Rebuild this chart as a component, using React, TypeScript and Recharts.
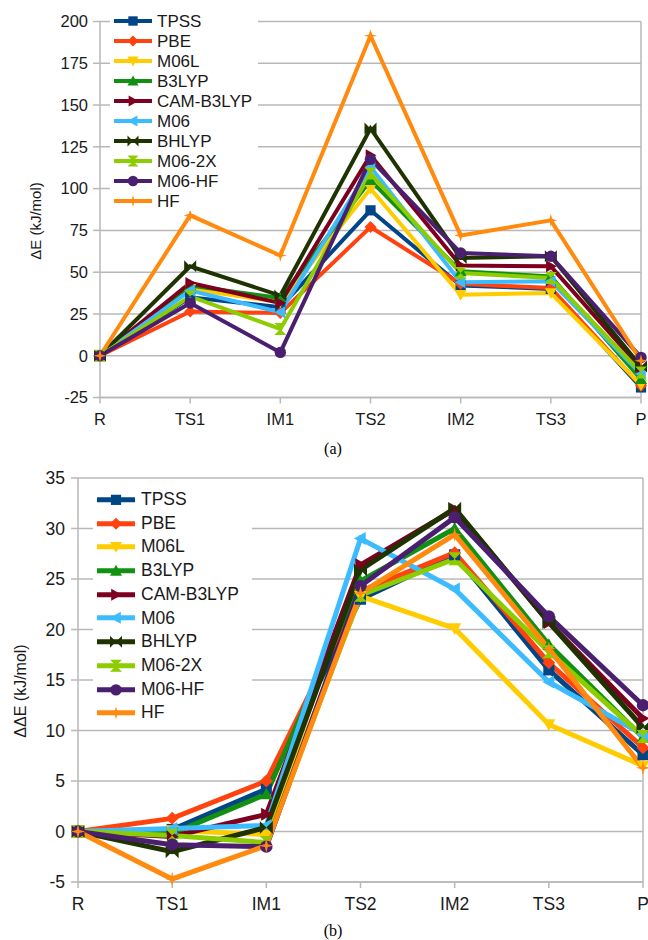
import React from 'react';
import { LineChart, Line, XAxis, YAxis, CartesianGrid, Legend, ReferenceLine, Label } from 'recharts';

const categories = ['R', 'TS1', 'IM1', 'TS2', 'IM2', 'TS3', 'P'];
const seriesNames = ['TPSS', 'PBE', 'M06L', 'B3LYP', 'CAM-B3LYP', 'M06', 'BHLYP', 'M06-2X', 'M06-HF', 'HF'];
const seriesColors = ['#004586', '#ff420e', '#ffcc00', '#129012', '#7e0021', '#3cbcff', '#1e3300', '#8ccc00', '#4b1f6f', '#ff8a0e'];
const seriesShapes = ['square', 'diamond', 'down', 'up', 'right', 'left', 'bowtie', 'hourglass', 'circle', 'star'];

// (a) ΔE (kJ/mol)
const dE_TPSS = [0, 35, 29, 87, 42, 40, -19];
const dE_PBE = [0, 26.5, 25.5, 77, 43, 40.5, -18];
const dE_M06L = [0, 40, 32, 100, 36.5, 37.5, -17.5];
const dE_B3LYP = [0, 42, 34.5, 105, 50.5, 47.5, -14];
const dE_CAMB3LYP = [0, 43.5, 31.5, 120, 54, 53.5, -7.5];
const dE_M06 = [0, 39, 26, 113, 44, 44.5, -11];
const dE_BHLYP = [0, 53.5, 36, 136, 58.5, 59.5, -6.5];
const dE_M062X = [0, 35.5, 16, 109, 49.5, 46.5, -10];
const dE_M06HF = [0, 31.5, 2, 117.5, 61.5, 59.5, -1];
const dE_HF = [0, 84, 60, 191.5, 72, 81, -3];
const dETicks = [-25, 0, 25, 50, 75, 100, 125, 150, 175, 200];

// (b) ΔΔE (kJ/mol)
const ddE_TPSS = [0, 0.2, 4.2, 23.0, 27.4, 16.0, 7.6];
const ddE_PBE = [0, 1.3, 5.0, 23.8, 27.6, 16.7, 8.3];
const ddE_M06L = [0, 0.1, -0.3, 23.3, 20.1, 10.6, 6.5];
const ddE_B3LYP = [0, -0.2, 3.7, 24.8, 30.0, 18.5, 9.3];
const ddE_CAMB3LYP = [0, -0.5, 1.7, 26.4, 31.9, 20.7, 11.2];
const ddE_M06 = [0, 0.3, 0.6, 29.0, 24.0, 14.8, 9.6];
const ddE_BHLYP = [0, -2.0, 0.4, 25.9, 32.0, 20.7, 10.3];
const ddE_M062X = [0, -0.4, -1.1, 23.4, 27.0, 17.8, 9.4];
const ddE_M06HF = [0, -1.3, -1.5, 24.3, 31.1, 21.3, 12.5];
const ddE_HF = [0, -4.7, -1.4, 23.6, 29.4, 18.1, 6.3];
const ddETicks = [-5, 0, 5, 10, 15, 20, 25, 30, 35];

const dESeries = [dE_TPSS, dE_PBE, dE_M06L, dE_B3LYP, dE_CAMB3LYP, dE_M06, dE_BHLYP, dE_M062X, dE_M06HF, dE_HF];
const ddESeries = [ddE_TPSS, ddE_PBE, ddE_M06L, ddE_B3LYP, ddE_CAMB3LYP, ddE_M06, ddE_BHLYP, ddE_M062X, ddE_M06HF, ddE_HF];

function buildRows(series: number[][]) {
  return categories.map((c, i) => {
    const row: any = { cat: c };
    seriesNames.forEach((n, k) => {
      row[n] = series[k][i];
    });
    return row;
  });
}

const dataA = buildRows(dESeries);
const dataB = buildRows(ddESeries);

const FONT = '"Liberation Sans", Arial, sans-serif';
const GRID = '#b8b8b8';
const TEXT = '#1a1a1a';

function Marker({ shape, cx, cy, r, color }: { shape: string; cx: number; cy: number; r: number; color: string }) {
  const pts = (arr: number[][]) => arr.map(([x, y]) => `${cx + x * r},${cy + y * r}`).join(' ');
  switch (shape) {
    case 'square':
      return <rect x={cx - r * 0.85} y={cy - r * 0.85} width={r * 1.7} height={r * 1.7} fill={color} />;
    case 'diamond':
      return <polygon points={pts([[0, -1], [1, 0], [0, 1], [-1, 0]])} fill={color} />;
    case 'down':
      return <polygon points={pts([[-1, -0.8], [1, -0.8], [0, 1]])} fill={color} />;
    case 'up':
      return <polygon points={pts([[-1, 0.8], [1, 0.8], [0, -1]])} fill={color} />;
    case 'right':
      return <polygon points={pts([[-0.8, -1], [1, 0], [-0.8, 1]])} fill={color} />;
    case 'left':
      return <polygon points={pts([[0.8, -1], [-1, 0], [0.8, 1]])} fill={color} />;
    case 'bowtie':
      return <polygon points={pts([[-1, -1], [1, 1], [1, -1], [-1, 1]])} fill={color} />;
    case 'hourglass':
      return <polygon points={pts([[-1, -1], [1, -1], [-1, 1], [1, 1]])} fill={color} />;
    case 'circle':
      return <circle cx={cx} cy={cy} r={r * 0.95} fill={color} />;
    case 'star':
      return (
        <polygon
          points={pts([[0, -1.1], [0.22, -0.22], [1.1, 0], [0.22, 0.22], [0, 1.1], [-0.22, 0.22], [-1.1, 0], [-0.22, -0.22]])}
          fill={color}
        />
      );
    default:
      return null;
  }
}

function makeLegend(rowH: number, fontSize: number, lineW: number, stroke: number, r: number, textGap: number) {
  return () => (
    <div style={{ background: '#fff', padding: '0 4px' }}>
      {seriesNames.map((n, k) => (
        <div key={n} style={{ height: rowH, display: 'flex', alignItems: 'center' }}>
          <svg width={lineW} height={rowH} style={{ display: 'block', overflow: 'visible' }}>
            <line x1={0} x2={lineW} y1={rowH / 2} y2={rowH / 2} stroke={seriesColors[k]} strokeWidth={stroke} />
            <Marker shape={seriesShapes[k]} cx={lineW / 2} cy={rowH / 2} r={r} color={seriesColors[k]} />
          </svg>
          <span style={{ marginLeft: textGap, fontFamily: FONT, fontSize, color: TEXT, whiteSpace: 'nowrap', lineHeight: 1 }}>{n}</span>
        </div>
      ))}
    </div>
  );
}

function renderLines(strokeW: number, r: number) {
  return seriesNames.map((n, k) => (
    <Line
      key={n}
      type="linear"
      dataKey={n}
      stroke={seriesColors[k]}
      strokeWidth={strokeW}
      isAnimationActive={false}
      activeDot={false}
      dot={(p: any) =>
        p.cx == null || p.cy == null ? (
          <g key={`${n}-${p.index}`} />
        ) : (
          <Marker key={`${n}-${p.index}`} shape={seriesShapes[k]} cx={p.cx} cy={p.cy} r={r} color={seriesColors[k]} />
        )
      }
    />
  ));
}

function ChartA() {
  return (
    <LineChart width={648} height={440} data={dataA} margin={{ top: 21.5, right: 7, left: 0, bottom: 12.5 }}>
      <CartesianGrid vertical={false} stroke={GRID} strokeWidth={1.5} />
      <XAxis
        dataKey="cat"
        height={30}
        stroke={GRID}
        strokeWidth={1.5}
        tickSize={6}
        tickMargin={10}
        interval={0}
        tick={{ fill: TEXT, fontSize: 16.5, fontFamily: FONT }}
      />
      <YAxis
        width={100}
        domain={[-25, 200]}
        ticks={dETicks}
        interval={0}
        stroke={GRID}
        strokeWidth={1.5}
        tickSize={7}
        tickMargin={5}
        tick={{ fill: TEXT, fontSize: 16.5, fontFamily: FONT }}
      >
        <Label
          content={() => (
            <text x={35} y={221} transform="rotate(-90 35 221)" textAnchor="middle" dominantBaseline="central" fill={TEXT} fontSize={15} fontFamily={FONT}>
              ΔE (kJ/mol)
            </text>
          )}
        />
      </YAxis>
      <ReferenceLine x="P" stroke={GRID} strokeWidth={1.5} />
      {renderLines(4, 6)}
      <Legend
        layout="horizontal"
        align="center"
        verticalAlign="middle"
        wrapperStyle={{ position: 'absolute', left: 110, top: 11, width: 148, height: 200 }}
        content={makeLegend(20, 17, 38, 4, 5.5, 5)}
      />
    </LineChart>
  );
}

function ChartB() {
  return (
    <LineChart width={648} height={460} data={dataB} margin={{ top: 18, right: 5, left: 0, bottom: 8 }}>
      <CartesianGrid vertical={false} stroke={GRID} strokeWidth={1.5} />
      <XAxis
        dataKey="cat"
        height={30}
        stroke={GRID}
        strokeWidth={1.5}
        tickSize={6}
        tickMargin={10}
        interval={0}
        tick={{ fill: TEXT, fontSize: 17.5, fontFamily: FONT }}
      />
      <YAxis
        width={78}
        domain={[-5, 35]}
        ticks={ddETicks}
        interval={0}
        stroke={GRID}
        strokeWidth={1.5}
        tickSize={7}
        tickMargin={6}
        tick={{ fill: TEXT, fontSize: 17.5, fontFamily: FONT }}
      >
        <Label
          content={() => (
            <text x={20} y={231} transform="rotate(-90 20 231)" textAnchor="middle" dominantBaseline="central" fill={TEXT} fontSize={16} fontFamily={FONT}>
              ΔΔE (kJ/mol)
            </text>
          )}
        />
      </YAxis>
      <ReferenceLine x="P" stroke={GRID} strokeWidth={1.5} />
      {renderLines(5, 6.5)}
      <Legend
        layout="horizontal"
        align="center"
        verticalAlign="middle"
        wrapperStyle={{ position: 'absolute', left: 93, top: 28, width: 159, height: 240 }}
        content={makeLegend(23.7, 17.5, 38, 5, 6, 6)}
      />
    </LineChart>
  );
}

export default function App() {
  return (
    <div style={{ position: 'absolute', left: 0, top: 0, width: 648, height: 940, background: '#fff', overflow: 'hidden' }}>
      <div style={{ position: 'absolute', left: 0, top: 0 }}>
        <ChartA />
      </div>
      <div
        style={{
          position: 'absolute',
          left: 313,
          width: 40,
          top: 440,
          textAlign: 'center',
          fontFamily: '"Liberation Serif", "Times New Roman", serif',
          fontSize: 16,
          color: '#000',
        }}
      >
        (a)
      </div>
      <div style={{ position: 'absolute', left: 0, top: 460 }}>
        <ChartB />
      </div>
      <div
        style={{
          position: 'absolute',
          left: 313,
          width: 40,
          top: 922,
          textAlign: 'center',
          fontFamily: '"Liberation Serif", "Times New Roman", serif',
          fontSize: 16,
          color: '#000',
        }}
      >
        (b)
      </div>
    </div>
  );
}
